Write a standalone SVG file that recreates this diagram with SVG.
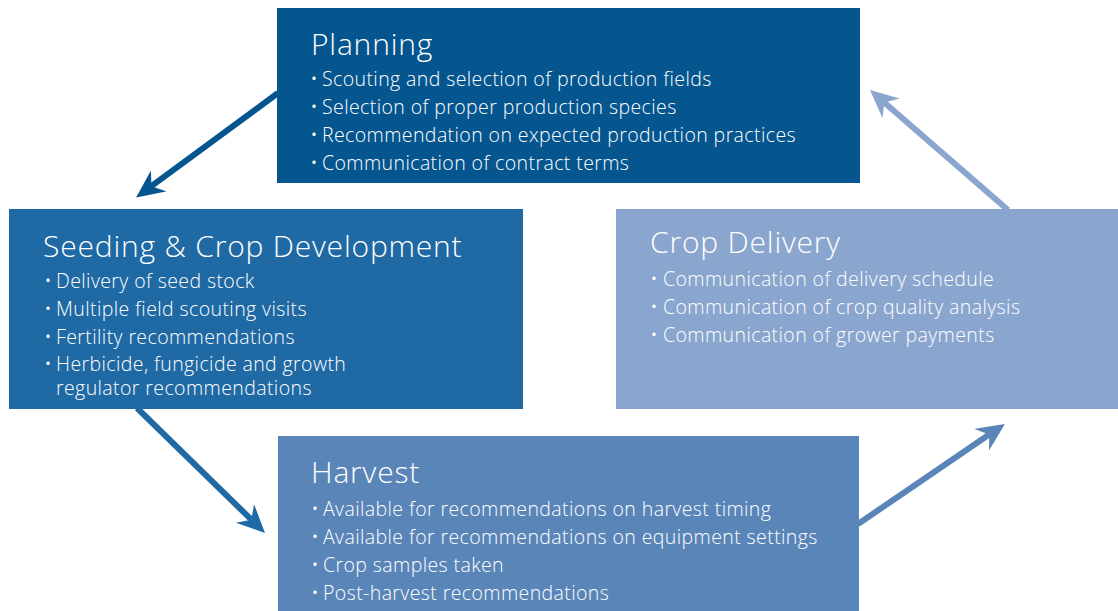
<svg xmlns="http://www.w3.org/2000/svg" width="1118" height="611" viewBox="0 0 1118 611">
<style>
.title{font-family:"Open Sans","Noto Sans",sans-serif;font-size:30px;letter-spacing:0.8px;fill:#ffffff;font-weight:300}
.item{font-family:"Open Sans","Noto Sans",sans-serif;font-size:19.5px;letter-spacing:0.4px;fill:#ffffff;font-weight:300}
.b{font-size:21px}
.conn{fill:none;stroke-width:6}
</style>
<defs>
<marker id="h1" markerUnits="userSpaceOnUse" markerWidth="30" markerHeight="28" refX="9" refY="13" orient="auto"><path d="M28,13 L0,0 L9,13 L0,26 Z" fill="#05558F"/></marker>
<marker id="h2" markerUnits="userSpaceOnUse" markerWidth="30" markerHeight="28" refX="9" refY="13" orient="auto"><path d="M28,13 L0,0 L9,13 L0,26 Z" fill="#1F69A4"/></marker>
<marker id="h3" markerUnits="userSpaceOnUse" markerWidth="30" markerHeight="28" refX="9" refY="13" orient="auto"><path d="M28,13 L0,0 L9,13 L0,26 Z" fill="#5A85B8"/></marker>
<marker id="h4" markerUnits="userSpaceOnUse" markerWidth="30" markerHeight="28" refX="9" refY="13" orient="auto"><path d="M28,13 L0,0 L9,13 L0,26 Z" fill="#8AA6CE"/></marker>
</defs>
<rect width="1118" height="611" fill="#ffffff"/>
<g id="connectors">
<path class="conn" d="M278,93 L151.4,186.2" stroke="#05558F" marker-end="url(#h1)"/>
<path class="conn" d="M137,408 L251.4,519.7" stroke="#1F69A4" marker-end="url(#h2)"/>
<path class="conn" d="M858,524 L989.2,434.6" stroke="#5A85B8" marker-end="url(#h3)"/>
<path class="conn" d="M1008,210 L884.3,102.5" stroke="#8AA6CE" marker-end="url(#h4)"/>
</g>
<g id="planning">
<rect x="277" y="8" width="583" height="175" fill="#05558F"/>
<text class="title" x="311" y="55">Planning</text>
<text class="item" y="86"><tspan class="b" x="310">•</tspan><tspan x="322">Scouting and selection of production fields</tspan></text>
<text class="item" y="114"><tspan class="b" x="310">•</tspan><tspan x="322">Selection of proper production species</tspan></text>
<text class="item" y="142"><tspan class="b" x="310">•</tspan><tspan x="322">Recommendation on expected production practices</tspan></text>
<text class="item" y="170"><tspan class="b" x="310">•</tspan><tspan x="322">Communication of contract terms</tspan></text>
</g>
<g id="seeding">
<rect x="9" y="209" width="514" height="200" fill="#1F69A4"/>
<text class="title" x="43" y="257">Seeding &amp; Crop Development</text>
<text class="item" y="288"><tspan class="b" x="44">•</tspan><tspan x="56">Delivery of seed stock</tspan></text>
<text class="item" y="316"><tspan class="b" x="44">•</tspan><tspan x="56">Multiple field scouting visits</tspan></text>
<text class="item" y="344"><tspan class="b" x="44">•</tspan><tspan x="56">Fertility recommendations</tspan></text>
<text class="item" y="371"><tspan class="b" x="44">•</tspan><tspan x="56">Herbicide, fungicide and growth</tspan><tspan x="56" y="395">regulator recommendations</tspan></text>
</g>
<g id="delivery">
<rect x="616" y="209" width="502" height="200" fill="#8AA6CE"/>
<text class="title" x="650" y="253">Crop Delivery</text>
<text class="item" y="286"><tspan class="b" x="650">•</tspan><tspan x="663">Communication of delivery schedule</tspan></text>
<text class="item" y="314"><tspan class="b" x="650">•</tspan><tspan x="663">Communication of crop quality analysis</tspan></text>
<text class="item" y="342"><tspan class="b" x="650">•</tspan><tspan x="663">Communication of grower payments</tspan></text>
</g>
<g id="harvest">
<rect x="278" y="436" width="581" height="175" fill="#5A85B8"/>
<text class="title" x="311" y="483">Harvest</text>
<text class="item" y="516"><tspan class="b" x="311">•</tspan><tspan x="323">Available for recommendations on harvest timing</tspan></text>
<text class="item" y="544"><tspan class="b" x="311">•</tspan><tspan x="323">Available for recommendations on equipment settings</tspan></text>
<text class="item" y="572"><tspan class="b" x="311">•</tspan><tspan x="323">Crop samples taken</tspan></text>
<text class="item" y="600"><tspan class="b" x="311">•</tspan><tspan x="323">Post-harvest recommendations</tspan></text>
</g>
</svg>
